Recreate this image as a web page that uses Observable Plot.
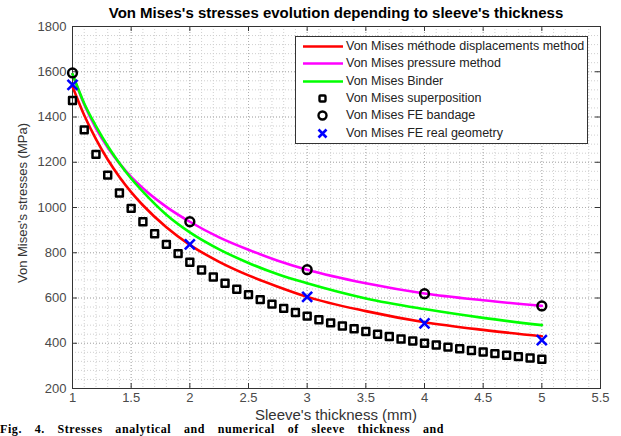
<!DOCTYPE html>
<html><head><meta charset="utf-8">
<script src="https://cdn.jsdelivr.net/npm/d3@7"></script>
<script src="https://cdn.jsdelivr.net/npm/@observablehq/plot@0.6"></script>
<style>
body{margin:0;background:#fff;font-family:"Liberation Sans",Arial,sans-serif;width:621px;height:436px;overflow:hidden;position:relative}
#chart{position:absolute;left:0;top:0}
#title{position:absolute;top:4px;left:72px;width:528px;text-align:center;font-weight:bold;font-size:15px;color:#000;line-height:17px}
#xlabel{position:absolute;top:407px;left:72px;width:528px;text-align:center;font-size:15px;color:#333;line-height:16px}
#ylabel{position:absolute;left:22px;top:203px;width:0;height:0}
#ylabel span{position:absolute;transform:translate(-50%,-50%) rotate(-90deg);white-space:nowrap;font-size:13px;color:#333}
#legend{position:absolute;left:295px;top:36px;width:291px;height:106px;border:1px solid #333;background:#fff}
.row{position:absolute;left:0;height:17px;width:291px;font-size:12.5px;color:#222;line-height:17px}
.row svg{position:absolute;left:5px;top:0}
.row span{position:absolute;left:50px;top:0;white-space:nowrap}
#caption{position:absolute;left:0;top:423px;font-family:"Liberation Serif","Times New Roman",serif;font-size:12px;line-height:12px;font-weight:bold;white-space:nowrap;color:#000;word-spacing:9px;letter-spacing:0.6px}
</style></head><body>
<div id="chart"></div>
<div id="title">Von Mises's stresses evolution depending to sleeve's thickness</div>
<div id="xlabel">Sleeve's thickness (mm)</div>
<div id="ylabel"><span>Von Mises's stresses (MPa)</span></div>
<div id="legend"></div>
<div id="caption">Fig. 4. Stresses analytical and numerical of sleeve thickness and</div>
<script>
// ---- data ----
const xTicks = [1, 1.5, 2, 2.5, 3, 3.5, 4, 4.5, 5, 5.5];
const yTicks = [200, 400, 600, 800, 1000, 1200, 1400, 1600, 1800];

const curveX = [1, 1.1, 1.2, 1.3, 1.4, 1.5, 1.6, 1.8, 2, 2.25, 2.5, 2.75, 3, 3.5, 4, 4.5, 5];
const displacementVM = [1535, 1408, 1302, 1212, 1135, 1068, 1010, 913, 835, 760, 700, 650, 605, 542, 493, 459, 431];
const pressureVM = [1590, 1455, 1350, 1265, 1195, 1135, 1085, 1003, 937, 868, 813, 765, 725, 665, 620, 590, 565];
const binderVM = [1590, 1460, 1360, 1272, 1196, 1128, 1070, 968, 890, 815, 755, 705, 665, 598, 551, 512, 480];

const superX = [1, 1.1, 1.2, 1.3, 1.4, 1.5, 1.6, 1.7, 1.8, 1.9, 2, 2.1, 2.2, 2.3, 2.4, 2.5, 2.6, 2.7, 2.8, 2.9, 3,
  3.1, 3.2, 3.3, 3.4, 3.5, 3.6, 3.7, 3.8, 3.9, 4, 4.1, 4.2, 4.3, 4.4, 4.5, 4.6, 4.7, 4.8, 4.9, 5];
const superVM = [1473, 1343, 1235, 1143, 1064, 996, 937, 884, 837, 796, 758, 724, 693, 665, 639, 615, 593, 573, 554, 536, 520,
  504, 490, 476, 464, 452, 440, 430, 419, 410, 400, 392, 383, 376, 368, 361, 354, 347, 341, 335, 329];

const feX = [1, 2, 3, 4, 5];
const feBandageVM = [1595, 937, 725, 619, 565];
const feRealVM = [1542, 837, 605, 488, 414];

const seriesNames = [
  "Von Mises méthode displacements method",
  "Von Mises pressure method",
  "Von Mises Binder",
  "Von Mises superposition",
  "Von Mises FE bandage",
  "Von Mises FE real geometry"
];

// ---- build ----
const toXY = (xs, ys) => xs.map((x, i) => ({x, y: ys[i]}));
const W = 621, H = 436, mT = 26, mB = 48, mL = 72, mR = 21;
const fw = W - mL - mR, fh = H - mT - mB;
const xMinor = d3.range(1, 5.5001, 0.1).map(v => +v.toFixed(1));
const yMinor = d3.range(200, 1801, 40);
const fmt = d => String(d);

const chart = Plot.plot({
  width: W, height: H,
  marginTop: mT, marginBottom: mB, marginLeft: mL, marginRight: mR,
  x: {domain: [1, 5.5]},
  y: {domain: [200, 1800]},
  style: {fontFamily: '"Liberation Sans", Arial, sans-serif', fontSize: "13px", color: "#4a4a4a", background: "#fff"},
  marks: [
    Plot.gridX(xMinor, {stroke: "#cfcfcf", strokeOpacity: 1, strokeDasharray: "1,2"}),
    Plot.gridY(yMinor, {stroke: "#cfcfcf", strokeOpacity: 1, strokeDasharray: "1,2"}),
    Plot.gridX(xTicks, {stroke: "#b0b0b0", strokeOpacity: 1, strokeDasharray: "1,2"}),
    Plot.gridY(yTicks, {stroke: "#b0b0b0", strokeOpacity: 1, strokeDasharray: "1,2"}),
    Plot.axisX({ticks: xTicks, tickSize: 0, tickPadding: 4, tickFormat: fmt, label: null}),
    Plot.axisY({ticks: yTicks, tickSize: 0, tickPadding: 6, tickFormat: fmt, label: null}),
    Plot.ruleX(xTicks, {stroke: "#333", insetTop: fh - 5}),
    Plot.ruleX(xTicks, {stroke: "#333", insetBottom: fh - 5}),
    Plot.ruleY(yTicks, {stroke: "#333", insetRight: fw - 5}),
    Plot.ruleY(yTicks, {stroke: "#333", insetLeft: fw - 5}),
    Plot.frame({stroke: "#333"}),
    Plot.line(toXY(curveX, displacementVM), {x: "x", y: "y", stroke: "#ff0000", strokeWidth: 2.6, curve: "monotone-x"}),
    Plot.line(toXY(curveX, pressureVM), {x: "x", y: "y", stroke: "#ff00ff", strokeWidth: 2.6, curve: "monotone-x"}),
    Plot.line(toXY(curveX, binderVM), {x: "x", y: "y", stroke: "#00ff00", strokeWidth: 2.6, curve: "monotone-x"}),
    Plot.dot(toXY(superX, superVM), {x: "x", y: "y", symbol: "square", r: 3.9, stroke: "#000", strokeWidth: 2.5, fill: "none", strokeLinejoin: "round"}),
    Plot.dot(toXY(feX, feBandageVM), {x: "x", y: "y", symbol: "circle", r: 4.4, stroke: "#000", strokeWidth: 2.5, fill: "none"}),
    Plot.dot(toXY(feX, feRealVM), {x: "x", y: "y", symbol: "times", r: 4.6, stroke: "#0000ff", strokeWidth: 2.6})
  ]
});
document.getElementById("chart").appendChild(chart);

// ---- legend ----
const legend = document.getElementById("legend");
const swatches = [
  '<line x1="2" y1="8.5" x2="42" y2="8.5" stroke="#ff0000" stroke-width="2.6"/>',
  '<line x1="2" y1="8.5" x2="42" y2="8.5" stroke="#ff00ff" stroke-width="2.6"/>',
  '<line x1="2" y1="8.5" x2="42" y2="8.5" stroke="#00ff00" stroke-width="2.6"/>',
  '<rect x="18.5" y="5.5" width="6" height="6" rx="1" fill="none" stroke="#000" stroke-width="2.4"/>',
  '<circle cx="21.5" cy="8.5" r="4" fill="none" stroke="#000" stroke-width="2.4"/>',
  '<path d="M17.5 4.5L25.5 12.5M25.5 4.5L17.5 12.5" stroke="#0000ff" stroke-width="2.6"/>'
];
seriesNames.forEach((name, i) => {
  const row = document.createElement("div");
  row.className = "row";
  row.style.top = (1 + i * 17.3) + "px";
  row.innerHTML = `<svg width="44" height="17">${swatches[i]}</svg><span>${name}</span>`;
  legend.appendChild(row);
});
</script>
</body></html>
